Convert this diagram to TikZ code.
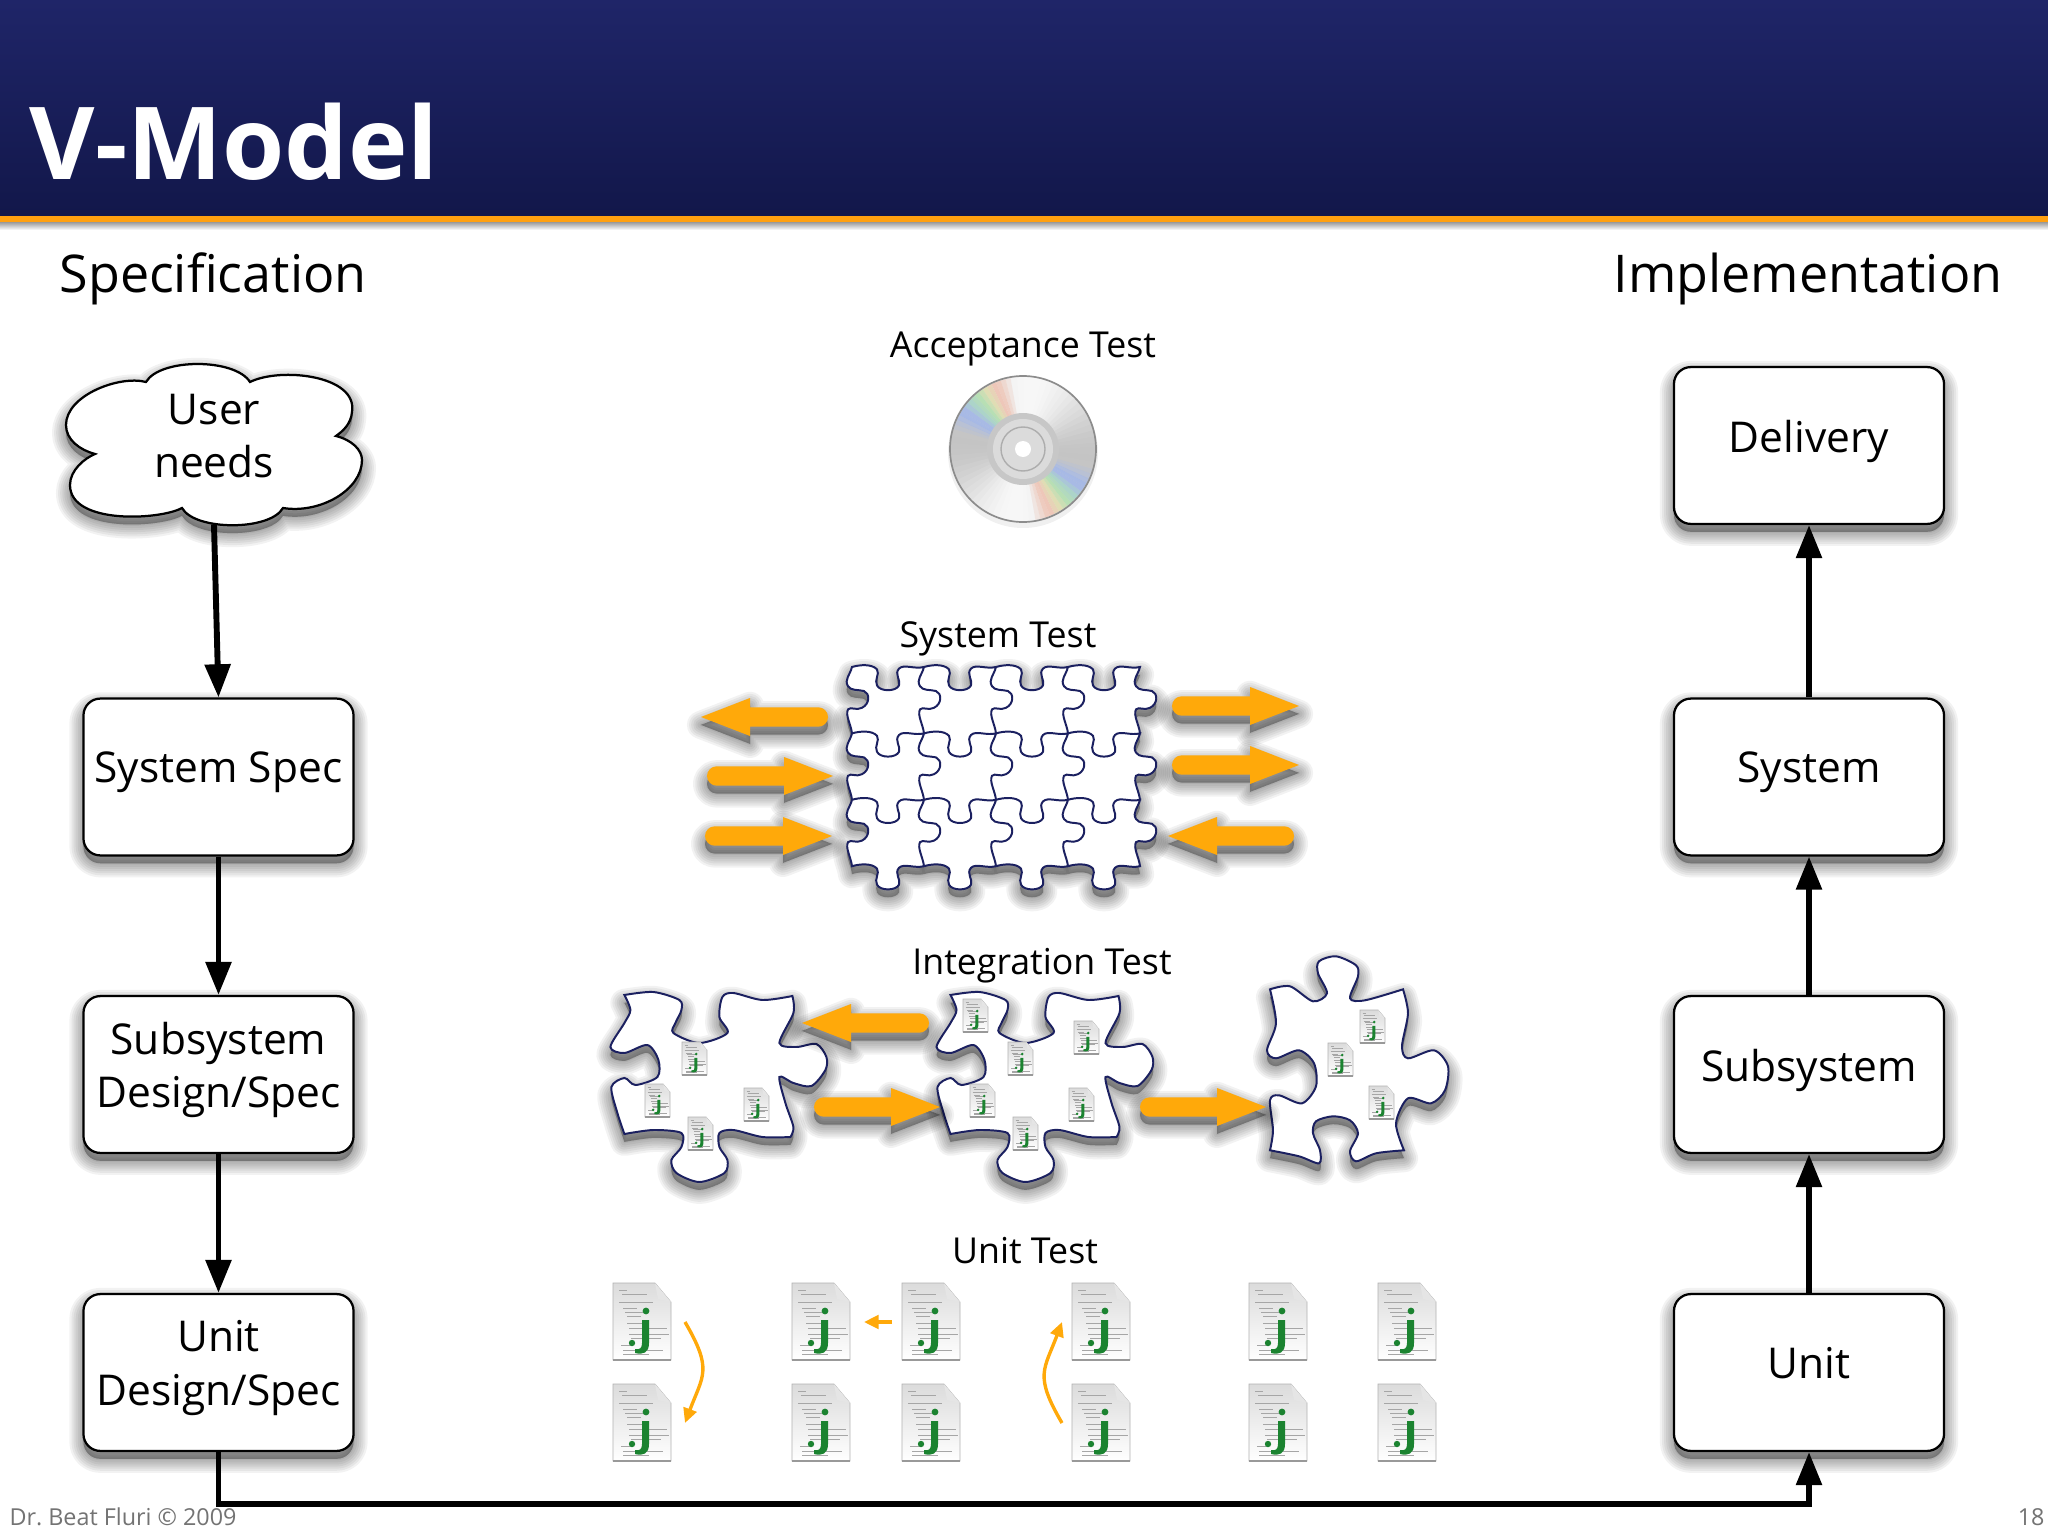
\documentclass[tikz,border=0pt]{standalone}
\usepackage{fontspec}
\setmainfont{Open Sans}
\usetikzlibrary{arrows.meta}
\definecolor{headtop}{HTML}{1F2568}
\definecolor{headbottom}{HTML}{12174A}
\definecolor{headline}{HTML}{FFA010}
\definecolor{flowfill}{HTML}{FFA90A}
\definecolor{piecenavy}{HTML}{1B2060}
\definecolor{javagreen}{HTML}{1B8330}
\definecolor{cdpink}{HTML}{EFC4B4}
\definecolor{cdyellow}{HTML}{E0DDB0}
\definecolor{cdgreen}{HTML}{B4E0B0}
\definecolor{cdteal}{HTML}{A8D4C8}
\definecolor{cdblue}{HTML}{A4B8E8}
\tikzset{%
    shadowlayer/.style={preaction={draw=black, fill=black, draw opacity=.05, fill opacity=.05, line width=#1, line join=round, transform canvas={yshift=-2.8pt}}},
    softshadow/.style={shadowlayer=10pt, shadowlayer=8.5pt, shadowlayer=7pt, shadowlayer=5.5pt, shadowlayer=4pt, shadowlayer=2.5pt, shadowlayer=1pt},
    stagebox/.style={draw=black, line width=.8pt, fill=white, rounded corners=6pt, minimum width=3.375cm, minimum height=1.96cm, align=center, text depth=6.7pt, font=\fontsize{15.1}{19}\selectfont, softshadow},
    flowarrow/.style={line width=2.1pt, -{Triangle[width=8.9pt,length=11.8pt]}},
    columnhead/.style={anchor=base, font=\fontsize{18.5}{22}\selectfont},
    testhead/.style={anchor=base, font=\fontsize{12.7}{15}\selectfont},
    footertext/.style={anchor=base, text=black!55, font=\fontsize{8.3}{10}\selectfont\frenchspacing},
    puzzleline/.style={draw=piecenavy, line width=.7pt, fill=white, softshadow},
    unitarrow/.style={draw=flowfill, line width=1.2pt, -{Triangle[width=4.8pt,length=5.2pt]}},
    javafile/.pic={
        \path[draw=black!30, line width=.25pt, top color=black!14, bottom color=white] (0,0) -- (42,0) -- (58,19) -- (58,77) -- (0,77) -- cycle;
        \draw[black!40, line width=.6pt] (0,77) -- (58,77);
        \fill[black!10] (42,0) -- (58,19) -- (45,16) -- cycle;
        \foreach \ya/\xa/\xb in {7/6/14, 11/9/34, 19/6/40, 25/10/24, 29/12/30, 33/14/28, 40/14/32, 45/16/54, 51/16/56, 55/18/48, 62/8/18, 67/10/50, 71/10/36}
            \draw[black!35, line width=.15pt] (\xa,\ya) -- (\xb,\ya);
        \fill[javagreen] (33,28) circle (3.4);
        \fill[javagreen] (19,60) circle (3.2);
        \fill[javagreen] (29,37) -- (36,37) -- (36,60) .. controls (36,70) and (30,72) .. (22,70) -- (22,66) .. controls (27,67) and (29,65) .. (29,60) -- cycle;
        \coordinate (-e) at (72,39);
        \coordinate (-w) at (-10,39);
    }
}
% one piece of the big puzzle, all edges in one closed path
\newcommand{\tileoutline}{(0,0) .. controls (8,-3) and (20,-4) .. (25,3) .. controls (28,9) and (22,16) .. (25,23) .. controls (28,31) and (44,31) .. (47,23) .. controls (49,16) and (42,9) .. (47,2) .. controls (52,-4) and (62,3) .. (72,0)
    .. controls (70,10) and (64,16) .. (68,24) .. controls (71,30) and (78,28) .. (84,30) .. controls (90,33) and (90,46) .. (82,51) .. controls (76,55) and (71,49) .. (68,53) .. controls (65,60) and (71,72) .. (72,83)
    .. controls (62,86) and (52,79) .. (47,85) .. controls (42,92) and (49,99) .. (47,106) .. controls (44,114) and (28,114) .. (25,106) .. controls (22,99) and (28,92) .. (25,86) .. controls (20,79) and (8,80) .. (0,83)
    .. controls (-1,72) and (-7,60) .. (-4,53) .. controls (-1,49) and (4,55) .. (10,51) .. controls (18,46) and (18,33) .. (12,30) .. controls (6,28) and (-1,30) .. (-4,24) .. controls (-8,16) and (-2,10) .. (0,0) -- cycle}
\newcommand{\wideoutline}{plot[smooth] coordinates {(0,0) (29,-3) (55,5) (57,15) (51,28) (49,38) (75,48) (103,38) (95,22) (98,2) (109,-2) (138,5) (168,1)}
    -- plot[smooth] coordinates {(168,1) (169,18) (155,48) (172,52) (192,49) (202,62) (201,75) (187,91) (169,88) (155,82) (161,108) (169,132) (166,142)}
    -- plot[smooth] coordinates {(166,142) (138,142) (109,135) (95,138) (95,152) (103,165) (100,178) (75,187) (52,178) (47,165) (57,152) (57,138) (29,135) (0,139)}
    -- plot[smooth] coordinates {(0,139) (-7,118) (-13,92) (0,83) (11,90) (33,82) (34,65) (23,50) (0,58) (-14,52) (0,28) (6,15) (0,0)} -- cycle}
% tail x, tip x, y
\newcommand{\blockarrow}[3]{
    \pgfmathsetmacro{\arrowlen}{abs(#2-#1)}
    \pgfmathsetmacro{\arrowdir}{#2>#1 ? 1 : -1}
    \begin{scope}[shift={(#1,#3)}, xscale=\arrowdir]
        \fill[flowfill, softshadow] (\arrowlen,0) -- (\arrowlen-49,19) -- (\arrowlen-49,9.7) -- (9.7,9.7) arc (90:270:9.7) -- (\arrowlen-49,-9.7) -- (\arrowlen-49,-19) -- cycle;
    \end{scope}
}
\begin{document}
\begin{tikzpicture}[x=0.0125cm, y=-0.0125cm]
	\useasboundingbox (0,0) rectangle (2048,1536);

	% title bar
	\fill[white] (0,0) rectangle (2048,1536);
	\shade[top color=black!45, bottom color=white] (0,221) rectangle (2048,230);
	\shade[top color=headtop, bottom color=headbottom] (0,0) rectangle (2048,216);
	\fill[headline] (0,216) rectangle (2048,222);
	\node[anchor=base west, inner sep=0pt, text=white, font=\fontsize{35.8}{40}\selectfont\bfseries] (title) at (29,179) {V-Model};

	% column heads
	\node[columnhead, anchor=base west, inner sep=0pt] (spechead) at (59,292) {Specification};
	\node[columnhead, anchor=base east, inner sep=0pt] (implhead) at (2003,292) {Implementation};

	% user needs
	\path[draw=black, line width=.8pt, fill=white, softshadow] (146,382) .. controls (160,358) and (235,358) .. (250,382) .. controls (280,367) and (358,375) .. (352,412) .. controls (351,424) and (343,431) .. (336,436)
		.. controls (352,440) and (362,450) .. (362,460) .. controls (362,490) and (320,514) .. (283,508) .. controls (270,531) and (195,531) .. (182,508)
		.. controls (160,520) and (70,525) .. (70,485) .. controls (70,470) and (85,458) .. (95,454) .. controls (80,450) and (66,440) .. (66,425) .. controls (66,395) and (120,375) .. (146,382) -- cycle;
	\node[minimum height=2.2cm, align=center, font=\fontsize{15.1}{19}\selectfont] (userneeds) at (214,436) {User\\needs};

	% left column
	\node[stagebox] (sysspec) at (218.5,777) {System Spec};
	\node[stagebox] (subspec) at (218.5,1074.5) {Subsystem\\Design/Spec};
	\node[stagebox] (unitspec) at (218.5,1372.5) {Unit\\Design/Spec};

	% right column
	\node[stagebox] (delivery) at (1809,445.5) {Delivery};
	\node[stagebox] (system) at (1809,777) {System};
	\node[stagebox] (subsystem) at (1809,1074.5) {Subsystem};
	\node[stagebox] (unit) at (1809,1372.5) {Unit};

	% connectors
	\draw[flowarrow] (userneeds.south) -- (sysspec.north);
	\draw[flowarrow] (sysspec) -- (subspec);
	\draw[flowarrow] (subspec) -- (unitspec);
	\draw[flowarrow] (unitspec.south) -- ++(0,52) -| (unit.south);
	\draw[flowarrow] (unit) -- (subsystem);
	\draw[flowarrow] (subsystem) -- (system);
	\draw[flowarrow] (system) -- (delivery);

	% acceptance test
	\node[testhead] (acchead) at (1023,357) {Acceptance Test};
	\begin{scope}[shift={(1023,449)}, yscale=-1]
		\fill[black, opacity=.06] (0,-4) circle (75);
		\foreach \a in {0,5,...,355} {
			\pgfmathsetmacro{\silver}{87+10*cos(2*(\a+100))}
			\fill[white!\silver!black] (0,0) -- (\a:73) arc (\a:\a+6:73) -- cycle;
		}
		\foreach \a/\c/\o in {100/cdpink/.25, 104/cdpink/.5, 108/cdpink/.8, 112/cdpink/.9, 116/cdpink!50!cdyellow/.9, 120/cdyellow/.9, 124/cdyellow!50!cdgreen/.9, 128/cdgreen/.9, 132/cdgreen!50!cdteal/.9, 136/cdteal/.9, 140/cdteal!50!cdblue/.9, 144/cdblue/.9, 148/cdblue/.9, 152/cdblue/.7, 156/cdblue/.4, 160/cdblue/.2} {
			\fill[\c, opacity=\o] (0,0) -- (\a:72) arc (\a:\a+4:72) -- cycle;
			\fill[\c, opacity=\o] (0,0) -- (\a-180:72) arc (\a-180:\a-176:72) -- cycle;
		}
		\draw[black!45, line width=.6pt] (0,0) circle (73);
		\fill[black!22] (0,0) circle (36);
		\fill[black!14] (0,0) circle (30);
		\draw[black!32, line width=.5pt] (0,0) circle (22);
		\fill[white] (0,0) circle (8);
	\end{scope}

	% system test
	\node[testhead] (syshead) at (998,647) {System Test};
	\path[puzzleline] \foreach \cx in {852,924,996,1068} {\foreach \cy in {667,733.4,799.8} {{[shift={(\cx,\cy)}, yscale=.8] \tileoutline}}};
	\blockarrow{828}{701}{717}
	\blockarrow{707}{833}{776}
	\blockarrow{705}{832}{836}
	\blockarrow{1172}{1299}{706}
	\blockarrow{1172}{1299}{765}
	\blockarrow{1294}{1168}{836}

	% integration test
	\node[testhead] (inthead) at (1042,974) {Integration Test};
	\draw[puzzleline, shift={(624.4,995)}] \wideoutline;
	\draw[puzzleline, shift={(950.5,995)}] \wideoutline;
	\draw[puzzleline, shift={(1270,989.3)}] plot[smooth] coordinates {(0,0) (20,-3) (43,12) (57,4) (48,-16) (49,-28) (66,-33) (86,-24) (88,-13) (80,9) (95,11) (133,0)}
		-- plot[smooth] coordinates {(133,0) (138,24) (132,57) (138,69) (164,61) (178,77) (175,101) (161,114) (138,109) (126,134) (134,161)}
		-- plot[smooth] coordinates {(134,161) (106,164) (86,172) (80,162) (88,144) (80,131) (63,127) (46,132) (43,144) (50,161) (49,174) (29,167) (0,161)}
		-- plot[smooth] coordinates {(0,161) (3,141) (0,111) (9,106) (32,114) (46,97) (44,74) (29,61) (6,69) (-3,61) (6,34) (0,0)} -- cycle;
	\blockarrow{929}{802}{1023}
	\blockarrow{814}{940}{1107}
	\blockarrow{1140}{1266}{1107}
	\foreach \fx/\fy in {682/1042, 645/1084, 744/1088, 688/1117, 963/999, 1074/1021, 1008/1042, 970/1084, 1069/1088, 1013/1117, 1360/1010, 1328/1043, 1369/1086}
		\pic[scale=.43] at (\fx,\fy) {javafile};

	% unit test
	\node[testhead] (unithead) at (1025,1263) {Unit Test};
	\pic (filea) at (613,1283) {javafile};
	\pic (fileb) at (613,1384) {javafile};
	\pic (filec) at (792,1283) {javafile};
	\pic (filed) at (792,1384) {javafile};
	\pic (filee) at (902,1283) {javafile};
	\pic (filef) at (902,1384) {javafile};
	\pic (fileg) at (1072,1283) {javafile};
	\pic (fileh) at (1072,1384) {javafile};
	\pic (filei) at (1249,1283) {javafile};
	\pic (filej) at (1249,1384) {javafile};
	\pic (filek) at (1378,1283) {javafile};
	\pic (filel) at (1378,1384) {javafile};
	\draw[unitarrow] (filea-e) .. controls +(28,48) and +(18,-48) .. (fileb-e);
	\draw[unitarrow] (filee-w) -- (filec-e);
	\draw[unitarrow] (fileh-w) .. controls +(-28,-48) and +(-18,48) .. (fileg-w);

	% footer
	\node[footertext, anchor=base west, inner sep=0pt] (author) at (9,1525) {Dr. Beat Fluri © 2009};
	\node[footertext, anchor=base east, inner sep=0pt] (pagenum) at (2045,1525) {18};

\end{tikzpicture}
\end{document}
